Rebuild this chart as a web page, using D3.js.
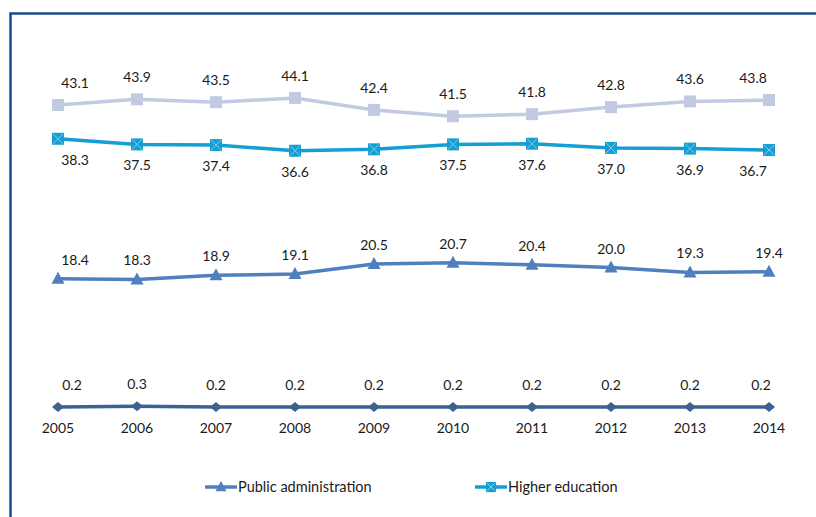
<!doctype html>
<html>
<head>
<meta charset="utf-8">
<title>Employment shares 2005-2014</title>
<script src="https://d3js.org/d3.v7.min.js"></script>
<style>
  body { margin: 0; background: #fff; }
  text { font-family: Lato, "Open Sans", sans-serif; fill: #1a1a1a; }
</style>
</head>
<body>
<script>
// data
var years = ["2005","2006","2007","2008","2009","2010","2011","2012","2013","2014"];
var topSeries    = [43.1, 43.9, 43.5, 44.1, 42.4, 41.5, 41.8, 42.8, 43.6, 43.8];
var higherEdu    = [38.3, 37.5, 37.4, 36.6, 36.8, 37.5, 37.6, 37.0, 36.9, 36.7];
var publicAdmin  = [18.4, 18.3, 18.9, 19.1, 20.5, 20.7, 20.4, 20.0, 19.3, 19.4];
var bottomSeries = [0.2, 0.3, 0.2, 0.2, 0.2, 0.2, 0.2, 0.2, 0.2, 0.2];

var series = [
  {name: "Other",                 values: topSeries,    color: "#c1cae2", symbol: "square",   labelDy: -22, firstDx: 17, lastDx: -16},
  {name: "Higher education",      values: higherEdu,    color: "#139fd3", symbol: "xsquare",  labelDy: 21,  firstDx: 17, lastDx: -16, legend: true},
  {name: "Public administration", values: publicAdmin,  color: "#4f7fbe", symbol: "triangle", labelDy: -19, firstDx: 17, lastDx: 0, legend: true},
  {name: "Private",               values: bottomSeries, color: "#3c6193", symbol: "diamond",  labelDy: -22, firstDx: 14, lastDx: -8}
];

var W = 816, H = 517;
var svg = d3.select("body").append("svg")
    .attr("width", W)
    .attr("height", H);

// frame
svg.append("rect")
    .attr("x", 10.5).attr("y", 13.5)
    .attr("width", W + 20).attr("height", H + 20)
    .attr("fill", "none")
    .attr("stroke", "#1d4a8c")
    .attr("stroke-width", 2.5);

var x = d3.scalePoint()
    .domain(years)
    .range([58, 769]);
var y = d3.scaleLinear()
    .domain([0, 50])
    .range([408.4, 56.4]);

function marker(sel, symbol, color, size) {
  var s = size || 1;
  if (symbol === "square") {
    sel.append("rect").attr("x", -6 * s).attr("y", -6 * s).attr("width", 12 * s).attr("height", 12 * s)
      .attr("fill", color);
  } else if (symbol === "xsquare") {
    sel.append("rect").attr("x", -6 * s).attr("y", -6 * s).attr("width", 12 * s).attr("height", 12 * s)
      .attr("fill", color);
    sel.append("path").attr("d", "M" + (-5 * s) + "," + (-5 * s) + "L" + (5 * s) + "," + (5 * s) +
        "M" + (-5 * s) + "," + (5 * s) + "L" + (5 * s) + "," + (-5 * s))
      .attr("stroke", "#8fc8e8").attr("stroke-width", 1);
  } else if (symbol === "triangle") {
    sel.append("path").attr("d", "M0," + (-7 * s) + "L" + (6.5 * s) + "," + (5 * s) + "L" + (-6.5 * s) + "," + (5 * s) + "Z")
      .attr("fill", color);
  } else {
    sel.append("path").attr("d", "M0," + (-5 * s) + "L" + (6 * s) + ",0L0," + (5 * s) + "L" + (-6 * s) + ",0Z")
      .attr("fill", color);
  }
}

var line = d3.line()
    .x(function(d, i) { return x(years[i]); })
    .y(function(d) { return y(d); });

series.forEach(function(s) {
  var g = svg.append("g");
  g.append("path")
      .datum(s.values)
      .attr("d", line)
      .attr("fill", "none")
      .attr("stroke", s.color)
      .attr("stroke-width", 3.5);

  g.selectAll(".pt")
      .data(s.values)
      .enter().append("g")
      .attr("transform", function(d, i) { return "translate(" + x(years[i]) + "," + y(d) + ")"; })
      .each(function() { marker(d3.select(this), s.symbol, s.color); });

  // labels: first and last nudged inward like the original
  var n = s.values.length;
  g.selectAll(".lbl")
      .data(s.values)
      .enter().append("text")
      .attr("x", function(d, i) {
        var dx = i === 0 ? s.firstDx : (i === n - 1 ? s.lastDx : 0);
        return x(years[i]) + dx;
      })
      .attr("y", function(d) { return y(d) + s.labelDy; })
      .attr("dy", "0.35em")
      .attr("text-anchor", "middle")
      .style("font-size", "14px")
      .text(function(d) { return d.toFixed(1); });
});

// year labels
svg.selectAll(".year")
    .data(years)
    .enter().append("text")
    .attr("x", function(d) { return x(d); })
    .attr("y", 428)
    .attr("dy", "0.35em")
    .attr("text-anchor", "middle")
    .style("font-size", "14px")
    .text(function(d) { return d; });

// legend
var legendItems = series.filter(function(s) { return s.legend; }).reverse();
var lx = [205, 475];
legendItems.forEach(function(s, i) {
  var g = svg.append("g").attr("transform", "translate(" + lx[i] + ",487)");
  g.append("line").attr("x1", 0).attr("x2", 32).attr("stroke", s.color).attr("stroke-width", 3.5);
  var m = g.append("g").attr("transform", "translate(16,0)");
  marker(m, s.symbol, s.color, 0.85);
  g.append("text")
      .attr("x", 33)
      .attr("dy", "0.35em")
      .style("font-size", "14.5px")
      .text(s.name);
});
</script>
</body>
</html>
